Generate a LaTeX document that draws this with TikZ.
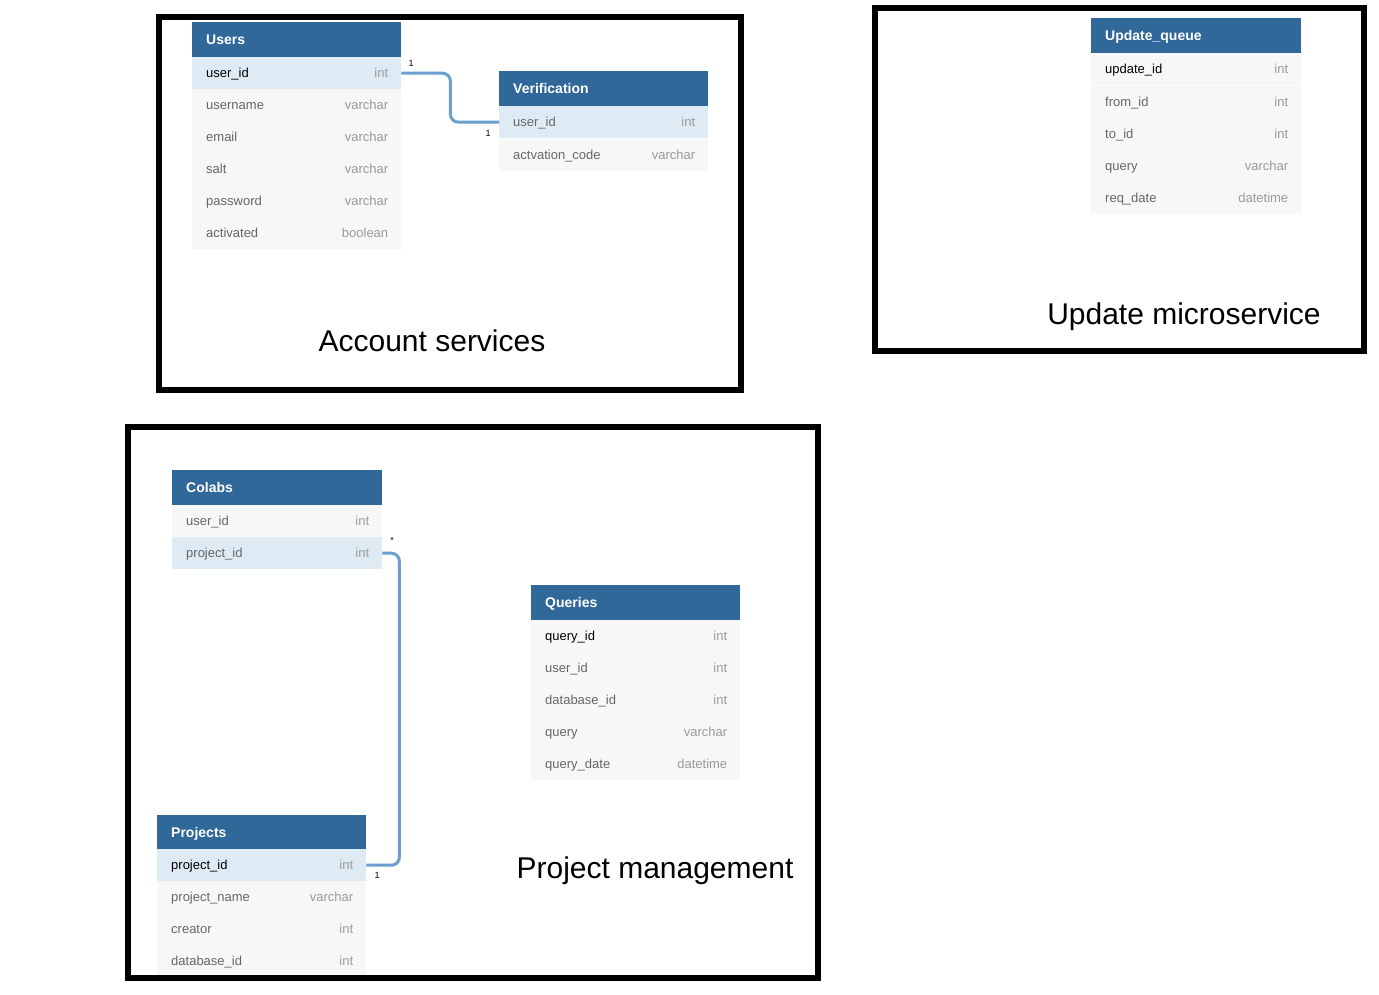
\documentclass[tikz,border=0pt]{standalone}
\usepackage{fontspec}
\setmainfont{Liberation Sans}
\usetikzlibrary{calc}
\definecolor{hdrblue}{HTML}{31689A}
\definecolor{rowhl}{HTML}{DEEBF4}
\definecolor{rowbg}{HTML}{F7F7F7}
\definecolor{fgrey}{HTML}{666666}
\definecolor{tgrey}{HTML}{9A9A9A}
\definecolor{connblue}{HTML}{6A9FCF}
\tikzset{
  hdr/.style={fill=hdrblue, draw=none, minimum height=35pt, inner sep=0pt, anchor=north west},
  hdrtext/.style={text=white, font=\fontsize{14}{16}\selectfont\bfseries, inner sep=0pt, anchor=base west},
  plainrow/.style={fill=rowbg, draw=none, minimum height=32pt, inner sep=0pt},
  hlrow/.style={fill=rowhl, draw=none, minimum height=32pt, inner sep=0pt},
  fname/.style={font=\fontsize{13}{15}\selectfont, inner sep=0pt},
  ftype/.style={text=tgrey, font=\fontsize{13}{15}\selectfont, inner sep=0pt},
  sep/.style={draw=white, line width=0.8pt},
  conn/.style={draw=connblue, line width=3pt, rounded corners=8pt},
  card/.style={font=\fontsize{9}{10}\selectfont, inner sep=0pt},
  frame/.style={draw=black, line width=6pt},
  title/.style={font=\fontsize{30}{34}\selectfont, inner sep=0pt, anchor=base}
}
\newcommand{\ertrow}[7]{%
  \node[#4, minimum width=#3, anchor=north west] (#1) at #2 {};
  \node[fname, text=#7, anchor=base west] (#1n) at ([xshift=14pt,yshift=-4.7pt]#1.west) {#5};
  \node[ftype, anchor=base east] (#1t) at ([xshift=-13pt,yshift=-4.7pt]#1.east) {#6};
  \draw[sep] (#1.south west) -- (#1.south east);
}
\newcommand{\erthead}[4]{%
  \node[hdr, minimum width=#3] (#1) at #2 {};
  \node[hdrtext] (#1t) at ([xshift=14pt,yshift=-5pt]#1.west) {#4};
}
\begin{document}
\begin{tikzpicture}[x=1pt,y=-1pt]
\useasboundingbox[fill=white] (0,0) rectangle (1379,994);

% ---------- Account services ----------
\erthead{uh}{(192,22)}{209pt}{Users}
\ertrow{u1}{(192,57)}{209pt}{hlrow}{user\_id}{int}{black}
\ertrow{u2}{(192,89)}{209pt}{plainrow}{username}{varchar}{fgrey}
\ertrow{u3}{(192,121)}{209pt}{plainrow}{email}{varchar}{fgrey}
\ertrow{u4}{(192,153)}{209pt}{plainrow}{salt}{varchar}{fgrey}
\ertrow{u5}{(192,185)}{209pt}{plainrow}{password}{varchar}{fgrey}
\ertrow{u6}{(192,217)}{209pt}{plainrow}{activated}{boolean}{fgrey}

\erthead{vh}{(499,71)}{209pt}{Verification}
\ertrow{v1}{(499,106)}{209pt}{hlrow}{user\_id}{int}{fgrey}
\ertrow{v2}{(499,139)}{209pt}{plainrow}{actvation\_code}{varchar}{fgrey}

\draw[conn] (u1.east) -- ++(49,0) |- (v1.west);
\node[card] (c1a) at (411,63) {1};
\node[card] (c1b) at (488,133) {1};

\node[title] (t1) at (432,351) {Account services};
\draw[frame] (159,17) rectangle (741,390);

% ---------- Update microservice ----------
\erthead{qh}{(1091,18)}{210pt}{Update\_queue}
\ertrow{q1}{(1091,53)}{210pt}{plainrow}{update\_id}{int}{black}
\ertrow{q2}{(1091,86)}{210pt}{plainrow}{from\_id}{int}{fgrey}
\ertrow{q3}{(1091,118)}{210pt}{plainrow}{to\_id}{int}{fgrey}
\ertrow{q4}{(1091,150)}{210pt}{plainrow}{query}{varchar}{fgrey}
\ertrow{q5}{(1091,182)}{210pt}{plainrow}{req\_date}{datetime}{fgrey}

\node[title] (t2) at (1184,324) {Update microservice};
\draw[frame] (875,8) rectangle (1364,351);

% ---------- Project management ----------
\erthead{ch}{(172,470)}{210pt}{Colabs}
\ertrow{c1}{(172,505)}{210pt}{plainrow}{user\_id}{int}{fgrey}
\ertrow{c2}{(172,537)}{210pt}{hlrow}{project\_id}{int}{fgrey}

\erthead{qqh}{(531,585)}{209pt}{Queries}
\ertrow{r1}{(531,620)}{209pt}{plainrow}{query\_id}{int}{black}
\ertrow{r2}{(531,652)}{209pt}{plainrow}{user\_id}{int}{fgrey}
\ertrow{r3}{(531,684)}{209pt}{plainrow}{database\_id}{int}{fgrey}
\ertrow{r4}{(531,716)}{209pt}{plainrow}{query}{varchar}{fgrey}
\ertrow{r5}{(531,748)}{209pt}{plainrow}{query\_date}{datetime}{fgrey}

\erthead{ph}{(157,815)}{209pt}{Projects}
\ertrow{p1}{(157,849)}{209pt}{hlrow}{project\_id}{int}{black}
\ertrow{p2}{(157,881)}{209pt}{plainrow}{project\_name}{varchar}{fgrey}
\ertrow{p3}{(157,913)}{209pt}{plainrow}{creator}{int}{fgrey}
\ertrow{p4}{(157,945)}{209pt}{plainrow}{database\_id}{int}{fgrey}

\draw[conn] (c2.east) -- ++(17,0) |- (p1.east);
\node[card] (c2a) at (392,540) {*};
\node[card] (c2b) at (377,875) {1};

\node[title] (t3) at (655,878) {Project management};
\draw[frame] (128,427) rectangle (818,978);
\end{tikzpicture}
\end{document}
